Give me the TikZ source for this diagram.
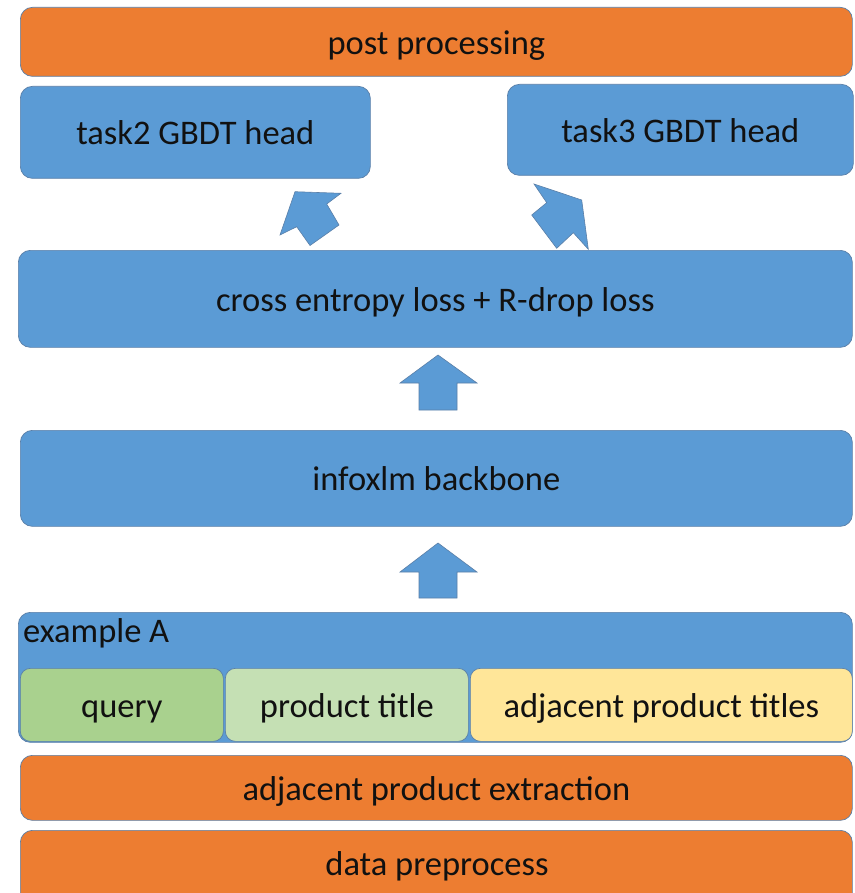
\documentclass[tikz,border=0pt]{standalone}
\usepackage{fontspec}
\setmainfont{Carlito}
\definecolor{cblue}{HTML}{5B9BD5}
\definecolor{corange}{HTML}{ED7D31}
\definecolor{cgreen}{HTML}{A9D18E}
\definecolor{clgreen}{HTML}{C5E0B4}
\definecolor{cyellow}{HTML}{FFE699}
\definecolor{cedge}{HTML}{5A7FA8}
\definecolor{ctext}{HTML}{111111}
\begin{document}
\begin{tikzpicture}[x=1pt,y=-1pt,
  txt/.style={text=ctext, font=\fontsize{34.5}{38}\selectfont, text height=30pt, text depth=5pt},
  box/.style={txt, draw=cedge, line width=0.7pt, rounded corners=12pt, anchor=north west,
    inner sep=0pt},
  inbox/.style={box, rounded corners=10pt},
  blockarrow/.style={fill=cblue, draw=cedge, line width=0.6pt, line join=miter}]
\useasboundingbox (0,0) rectangle (854,893);
\fill[white] (0,0) rectangle (854,893);

\node[box, fill=corange, minimum width=832pt, minimum height=69pt] (post) at (20,7) {post processing};
\node[box, fill=cblue, minimum width=350pt, minimum height=92pt] (task2) at (20,86) {task2 GBDT head};
\node[box, fill=cblue, minimum width=346pt, minimum height=91pt] (task3) at (507,84) {task3 GBDT head};
\node[box, fill=cblue, minimum width=834pt, minimum height=97pt] (loss) at (18,250) {cross entropy loss + R-drop loss};
\node[box, fill=cblue, minimum width=832pt, minimum height=96pt] (backbone) at (20,430) {infoxlm backbone};
\node[box, fill=cblue, minimum width=834pt, minimum height=130pt] (example) at (18,612) {};
\node[txt, anchor=west, inner sep=0pt] (exlabel) at (23,630) {example A};
\node[inbox, fill=cgreen, minimum width=203pt, minimum height=73pt] (query) at (20,668) {query};
\node[inbox, fill=clgreen, minimum width=243pt, minimum height=73pt] (ptitle) at (225,668) {product title};
\node[inbox, fill=cyellow, minimum width=382pt, minimum height=73pt] (adjtitles) at (470,668) {adjacent product titles};
\node[box, fill=corange, minimum width=832pt, minimum height=65pt] (extract) at (20,755) {adjacent product extraction};
\node[box, fill=corange, minimum width=832pt, minimum height=75pt] (prep) at (20,830) {};
\node[txt, inner sep=0pt] (preplabel) at (437,863) {data preprocess};

% vertical block arrows
\draw[blockarrow] (438,355) -- (477,383) -- (457,383) -- (457,410) -- (419,410) -- (419,383) -- (400,383) -- cycle;
\draw[blockarrow] (438,543) -- (477,572) -- (457,572) -- (457,598) -- (419,598) -- (419,572) -- (400,572) -- cycle;
% left diagonal arrow (towards task2)
\draw[blockarrow] (295,191.7) -- (341,193.3) -- (326.7,204) -- (339,225) -- (310,245.5) -- (296.7,226.7) -- (280,235) -- cycle;
% right diagonal arrow (towards task3)
\draw[blockarrow] (581.7,200) -- (588.3,249.3) -- (573.3,232.7) -- (556.7,248.3) -- (531.7,215) -- (546.7,202.7) -- (534,184) -- cycle;
\end{tikzpicture}
\end{document}
